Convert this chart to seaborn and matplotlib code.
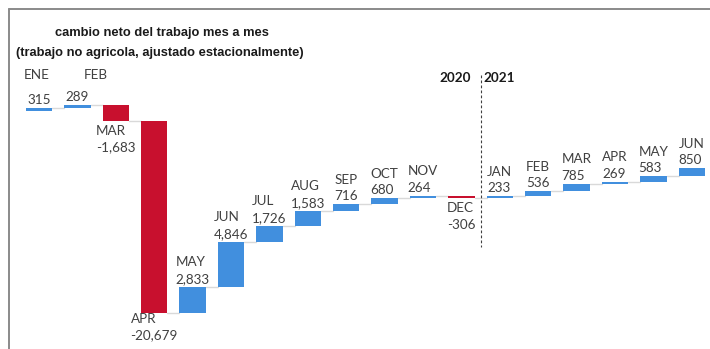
import numpy as np
import pandas as pd
import matplotlib
matplotlib.use("Agg")
import matplotlib.pyplot as plt
import matplotlib.transforms as mtransforms
from matplotlib.lines import Line2D
import seaborn as sns

# Monthly net change in nonfarm payrolls (thousands)
months = ["ENE", "FEB", "MAR", "APR", "MAY", "JUN", "JUL", "AUG", "SEP", "OCT", "NOV", "DEC",
          "JAN", "FEB", "MAR", "APR", "MAY", "JUN"]
changes = [315, 289, -1683, -20679, 2833, 4846, 1726, 1583, 716, 680, 264, -306,
           233, 536, 785, 269, 583, 850]
year_labels = ["2020", "2021"]
title_lines = ["cambio neto del trabajo mes a mes",
               "(trabajo no agricola, ajustado estacionalmente)"]

BLUE = "#418FDE"
RED = "#C8102E"
LABEL_COLOR = "#404040"
CONNECTOR = "#D9D9D9"
BAR_WIDTH = 0.69

n = len(changes)
ends = np.cumsum(changes)
starts = ends - np.array(changes)
df = pd.DataFrame({"pos": np.arange(n), "change": changes, "start": starts})

sns.set_style("white")
fig = plt.figure(figsize=(7.10, 3.49), dpi=100)
ax = fig.add_axes([0, 0, 1, 1])

sns.barplot(data=df, x="pos", y="change", bottom=df["start"].to_numpy(),
            width=BAR_WIDTH, color=BLUE, saturation=1, linewidth=0, ax=ax, zorder=2)
for patch, c in zip(ax.patches, changes):
    patch.set_facecolor(RED if c < 0 else BLUE)
    patch.set_edgecolor("none")

# connectors between consecutive bars
for i in range(n - 1):
    ax.plot([i + BAR_WIDTH / 2, i + 1 - BAR_WIDTH / 2], [ends[i], ends[i]],
            color=CONNECTOR, lw=1.0, zorder=1)

ax.set_xlim(-1.016, 17.474)
ax.set_ylim(-25633, 11955)
ax.axis("off")

label_font = dict(family=["Lato", "DejaVu Sans"], size=9.7, color=LABEL_COLOR)

for i, (m, c) in enumerate(zip(months, changes)):
    value = f"{c:,}"
    text = value if i < 2 else f"{m}\n{value}"
    if c >= 0:
        tr = mtransforms.offset_copy(ax.transData, fig=fig, x=0, y=2, units="dots")
        va = "bottom"
    else:
        # keep labels under the deepest bar inside the canvas
        y_disp = ax.transData.transform((0, ends[i]))[1]
        dy = -min(4, max(y_disp - 36, 0))
        tr = mtransforms.offset_copy(ax.transData, fig=fig, x=0, y=dy, units="dots")
        va = "top"
    ax.text(i, ends[i], text, transform=tr, ha="center", va=va,
            multialignment="left", linespacing=1.45, **label_font)

blend = mtransforms.blended_transform_factory(ax.transData, fig.transFigure)

# first two months carry their names in a header row
ax.text(-0.06, 1 - 75 / 349, months[0], transform=blend, ha="center", va="center", **label_font)
ax.text(1.47, 1 - 75 / 349, months[1], transform=blend, ha="center", va="center", **label_font)

# year divider
ax.plot([11.5, 11.5], [1 - 75 / 349, 1 - 247 / 349], transform=blend,
        color="#404040", lw=0.8, ls=(0, (2.5, 2)), zorder=3)
year_font = dict(family=["Lato", "DejaVu Sans"], size=9.7, weight="bold", color="#1a1a1a")
ax.text(11.5 - 0.25, 1 - 78 / 349, year_labels[0], transform=blend, ha="right", va="center", **year_font)
ax.text(11.5 + 0.08, 1 - 78 / 349, year_labels[1], transform=blend, ha="left", va="center", **year_font)

# title
title_font = dict(family=["Liberation Sans", "DejaVu Sans"], size=9.25, weight="bold", color="#1a1a1a")
fig.text(55 / 710, 1 - 33 / 349, title_lines[0], ha="left", va="center", **title_font)
fig.text(16 / 710, 1 - 53 / 349, title_lines[1], ha="left", va="center", **title_font)

# frame edges (left and top)
fig.add_artist(Line2D([9 / 710, 9 / 710], [0, 1 - 9 / 349], color="#8a8a8a", lw=1.4,
                      transform=fig.transFigure))
fig.add_artist(Line2D([9 / 710, 1], [1 - 9 / 349, 1 - 9 / 349], color="#8a8a8a", lw=1.4,
                      transform=fig.transFigure))

fig.savefig("out.png", dpi=100)
